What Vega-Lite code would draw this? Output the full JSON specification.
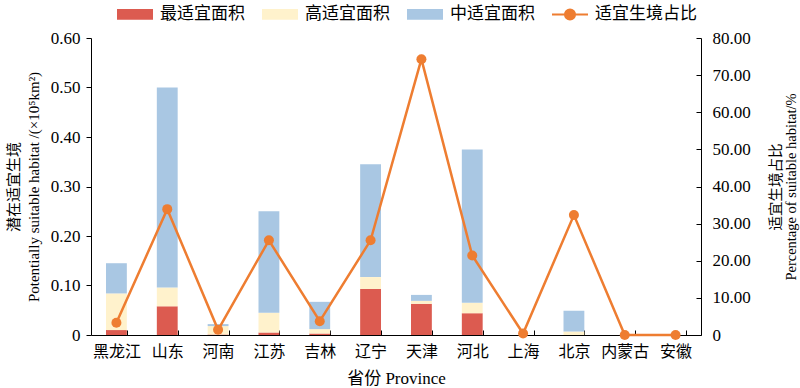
{
  "$schema": "https://vega.github.io/schema/vega-lite/v6.json",
  "width": 610,
  "height": 297,
  "autosize": {"type": "none"},
  "padding": {"left": 91, "top": 38, "right": 99, "bottom": 53},
  "background": "white",
  "config": {
    "font": "Liberation Serif, Noto Sans CJK SC",
    "view": {"stroke": null},
    "axis": {
      "domainColor": "black",
      "tickColor": "black",
      "labelColor": "black",
      "titleColor": "black",
      "titleFontWeight": "normal",
      "grid": false,
      "domainWidth": 1,
      "tickWidth": 1
    }
  },
  "datasets": {
    "bars": [
      {"p": "黑龙江", "type": "最适宜面积", "k": 1, "v": 0.010},
      {"p": "黑龙江", "type": "高适宜面积", "k": 2, "v": 0.074},
      {"p": "黑龙江", "type": "中适宜面积", "k": 3, "v": 0.061},
      {"p": "山东", "type": "最适宜面积", "k": 1, "v": 0.058},
      {"p": "山东", "type": "高适宜面积", "k": 2, "v": 0.038},
      {"p": "山东", "type": "中适宜面积", "k": 3, "v": 0.404},
      {"p": "河南", "type": "最适宜面积", "k": 1, "v": 0.001},
      {"p": "河南", "type": "高适宜面积", "k": 2, "v": 0.017},
      {"p": "河南", "type": "中适宜面积", "k": 3, "v": 0.004},
      {"p": "江苏", "type": "最适宜面积", "k": 1, "v": 0.005},
      {"p": "江苏", "type": "高适宜面积", "k": 2, "v": 0.040},
      {"p": "江苏", "type": "中适宜面积", "k": 3, "v": 0.205},
      {"p": "吉林", "type": "最适宜面积", "k": 1, "v": 0.003},
      {"p": "吉林", "type": "高适宜面积", "k": 2, "v": 0.009},
      {"p": "吉林", "type": "中适宜面积", "k": 3, "v": 0.055},
      {"p": "辽宁", "type": "最适宜面积", "k": 1, "v": 0.093},
      {"p": "辽宁", "type": "高适宜面积", "k": 2, "v": 0.024},
      {"p": "辽宁", "type": "中适宜面积", "k": 3, "v": 0.228},
      {"p": "天津", "type": "最适宜面积", "k": 1, "v": 0.063},
      {"p": "天津", "type": "高适宜面积", "k": 2, "v": 0.006},
      {"p": "天津", "type": "中适宜面积", "k": 3, "v": 0.012},
      {"p": "河北", "type": "最适宜面积", "k": 1, "v": 0.044},
      {"p": "河北", "type": "高适宜面积", "k": 2, "v": 0.021},
      {"p": "河北", "type": "中适宜面积", "k": 3, "v": 0.310},
      {"p": "上海", "type": "最适宜面积", "k": 1, "v": 0},
      {"p": "上海", "type": "高适宜面积", "k": 2, "v": 0},
      {"p": "上海", "type": "中适宜面积", "k": 3, "v": 0},
      {"p": "北京", "type": "最适宜面积", "k": 1, "v": 0},
      {"p": "北京", "type": "高适宜面积", "k": 2, "v": 0.007},
      {"p": "北京", "type": "中适宜面积", "k": 3, "v": 0.042},
      {"p": "内蒙古", "type": "最适宜面积", "k": 1, "v": 0},
      {"p": "内蒙古", "type": "高适宜面积", "k": 2, "v": 0},
      {"p": "内蒙古", "type": "中适宜面积", "k": 3, "v": 0},
      {"p": "安徽", "type": "最适宜面积", "k": 1, "v": 0},
      {"p": "安徽", "type": "高适宜面积", "k": 2, "v": 0},
      {"p": "安徽", "type": "中适宜面积", "k": 3, "v": 0}
    ],
    "ratio": [
      {"p": "黑龙江", "r": 3.3},
      {"p": "山东", "r": 33.9},
      {"p": "河南", "r": 1.4},
      {"p": "江苏", "r": 25.5},
      {"p": "吉林", "r": 3.7},
      {"p": "辽宁", "r": 25.5},
      {"p": "天津", "r": 74.3},
      {"p": "河北", "r": 21.4},
      {"p": "上海", "r": 0.4},
      {"p": "北京", "r": 32.3},
      {"p": "内蒙古", "r": 0},
      {"p": "安徽", "r": 0}
    ]
  },
  "encoding": {
    "x": {
      "field": "p",
      "type": "nominal",
      "sort": null,
      "scale": {
        "domain": ["黑龙江", "山东", "河南", "江苏", "吉林", "辽宁", "天津", "河北", "上海", "北京", "内蒙古", "安徽"],
        "paddingInner": 0.59,
        "paddingOuter": 0.295
      },
      "axis": {
        "title": "省份 Province",
        "titleFontSize": 17,
        "titlePadding": 11,
        "labelFontSize": 16,
        "labelAngle": 0,
        "labelPadding": 13,
        "tickBand": "extent",
        "tickSize": -5
      }
    }
  },
  "layer": [
    {
      "data": {"name": "bars"},
      "mark": {"type": "bar"},
      "encoding": {
        "y": {
          "field": "v",
          "type": "quantitative",
          "stack": "zero",
          "scale": {"domain": [0, 0.6], "nice": false},
          "axis": {
            "orient": "left",
            "values": [0, 0.1, 0.2, 0.3, 0.4, 0.5, 0.6],
            "labelExpr": "datum.value === 0 ? '0' : format(datum.value, '.2f')",
            "labelFontSize": 17,
            "tickSize": 5,
            "labelPadding": 6,
            "title": ["潜在适宜生境", "Potentially suitable habitat /(×10⁵km²)"],
            "titleFontSize": 15,
            "titleLineHeight": 20,
            "titlePadding": 9
          }
        },
        "color": {
          "field": "type",
          "type": "nominal",
          "scale": {
            "domain": ["最适宜面积", "高适宜面积", "中适宜面积", "适宜生境占比"],
            "range": ["#dc5b50", "#fff2cc", "#a9c7e3", "#ee7d31"]
          },
          "legend": {
            "orient": "none",
            "legendX": 25,
            "legendY": -43,
            "direction": "horizontal",
            "title": null,
            "symbolSize": 1296,
            "symbolType": "M-1,-0.3H1V0.3H-1Z",
            "labelFontSize": 17,
            "labelOffset": 6,
            "columnPadding": 13,
            "encode": {
              "symbols": {
                "update": {
                  "shape": {"signal": "datum.value === '适宜生境占比' ? 'M-1,0H1M0.28,0A0.28,0.28,0,1,1,-0.28,0A0.28,0.28,0,1,1,0.28,0' : 'M-1,-0.3H1V0.3H-1Z'"},
                  "stroke": {"signal": "datum.value === '适宜生境占比' ? '#ee7d31' : 'transparent'"},
                  "strokeWidth": {"value": 2}
                }
              }
            }
          }
        },
        "order": {"field": "k", "type": "quantitative"}
      }
    },
    {
      "data": {"name": "ratio"},
      "mark": {"type": "line", "color": "#ee7d31", "strokeWidth": 2.5, "point": {"filled": true, "size": 100, "color": "#ee7d31", "opacity": 1}},
      "encoding": {
        "y": {
          "field": "r",
          "type": "quantitative",
          "scale": {"domain": [0, 80], "nice": false},
          "axis": {
            "orient": "right",
            "values": [0, 10, 20, 30, 40, 50, 60, 70, 80],
            "labelExpr": "datum.value === 0 ? '0' : format(datum.value, '.2f')",
            "labelFontSize": 17,
            "tickSize": -5,
            "labelPadding": 16,
            "title": ["适宜生境占比", "Percentage of suitable habitat/%"],
            "titleAngle": -90,
            "titleBaseline": "top",
            "titleFontSize": 14.5,
            "titleLineHeight": 15,
            "titlePadding": 4
          }
        }
      }
    }
  ],
  "resolve": {"scale": {"y": "independent"}}
}
